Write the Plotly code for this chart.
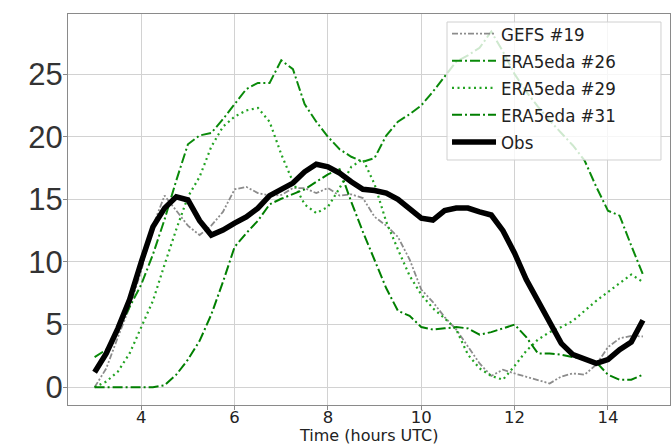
import plotly.graph_objects as go

# Time axis: quarter-hourly from 03:00 to 14:45 UTC
hours = [3.0 + 0.25 * i for i in range(48)]

gefs_19 = [0.0, 1.5, 4.0, 6.4, 9.3, 12.9, 15.3, 14.1, 12.9, 12.15, 12.9, 14.0,
           15.8, 16.0, 15.5, 15.3, 15.35, 15.9, 15.9, 15.5, 15.9, 15.3, 15.4, 15.1,
           13.6, 12.9, 12.0, 10.2, 7.8, 6.8, 5.6, 4.6, 3.2, 1.9, 0.9, 1.4,
           1.1, 0.85, 0.6, 0.3, 0.85, 1.1, 1.0, 1.8, 3.2, 3.9, 4.1, 4.05]

era5eda_26 = [2.4, 3.0, 4.6, 6.4, 8.2, 10.6, 13.4, 16.5, 19.4, 20.1, 20.3, 21.4,
              22.6, 23.8, 24.3, 24.3, 26.1, 25.4, 22.6, 21.2, 20.0, 19.0, 18.4, 18.0,
              18.3, 20.1, 21.2, 21.8, 22.5, 23.6, 24.8, 26.0, 26.5, 27.1, 28.4, 26.8,
              25.0, 23.6, 22.4, 21.3, 20.3, 19.3, 18.1, 16.0, 14.1, 13.7, 11.3, 9.0]

era5eda_29 = [0.0, 0.45, 1.25, 2.7, 4.8, 6.9, 9.8, 12.6, 15.2, 16.8, 19.2, 20.8,
              21.6, 22.1, 22.3, 21.2, 18.6, 16.4, 14.6, 13.9, 14.4, 15.9, 17.6, 18.2,
              16.2, 13.2, 11.0, 8.9, 7.4, 6.3, 5.5, 4.6, 2.6, 1.5, 0.9, 0.6,
              1.7, 2.9, 3.8, 4.4, 4.8, 5.3, 6.1, 6.9, 7.6, 8.3, 9.0, 8.4]

era5eda_31 = [0.0, 0.0, 0.0, 0.0, 0.0, 0.0, 0.15, 1.0, 2.2, 3.7, 5.8, 8.4,
              11.2, 12.3, 13.3, 14.6, 15.05, 15.4, 15.8, 16.4, 17.0, 17.4, 14.8, 12.4,
              10.1, 7.9, 6.1, 5.7, 4.8, 4.6, 4.7, 4.8, 4.7, 4.2, 4.4, 4.7,
              5.0, 4.0, 2.7, 2.7, 2.6, 2.4, 2.3, 2.0, 1.0, 0.6, 0.6, 1.0]

obs = [1.2, 2.7, 4.7, 7.0, 10.0, 12.8, 14.3, 15.2, 14.95, 13.3, 12.15, 12.55,
       13.1, 13.6, 14.3, 15.3, 15.8, 16.3, 17.2, 17.8, 17.6, 17.1, 16.4, 15.8,
       15.7, 15.5, 15.0, 14.2, 13.5, 13.35, 14.1, 14.3, 14.3, 14.0, 13.75, 12.5,
       10.7, 8.6, 6.9, 5.2, 3.5, 2.6, 2.2, 1.9, 2.2, 3.0, 3.6, 5.35]

x_ticks = [4, 6, 8, 10, 12, 14]
y_ticks = [0, 5, 10, 15, 20, 25]
x_title = "Time (hours UTC)"

series = [
    ("GEFS #19", gefs_19, dict(color="#8c8c8c", width=1.8, dash="6px,2px,2px,2px,2px,2px")),
    ("ERA5eda #26", era5eda_26, dict(color="#0a8a0a", width=2, dash="10px,3px,2px,3px")),
    ("ERA5eda #29", era5eda_29, dict(color="#22a322", width=2.2, dash="2px,3.5px")),
    ("ERA5eda #31", era5eda_31, dict(color="#007f00", width=2, dash="10px,3px,2px,3px")),
    ("Obs", obs, dict(color="black", width=5.5)),
]

fig = go.Figure()
for name, vals, line in series:
    fig.add_trace(go.Scatter(x=hours, y=vals, mode="lines", name=name, line=line))

axis_common = dict(
    showline=True, mirror=True, linecolor="#8a8a8a", linewidth=1.2,
    showgrid=True, gridcolor="#d2d2d2", gridwidth=1,
    ticks="outside", ticklen=4, tickcolor="#8a8a8a", zeroline=False,
)

# Legend frame: a translucent white panel drawn above the traces
legend_box = dict(x0=0.6296, x1=0.985, y0=0.6266, y1=0.9795)

fig.update_layout(
    width=671, height=446,
    margin=dict(l=68, r=1, t=14, b=41),
    paper_bgcolor="white", plot_bgcolor="white",
    xaxis=dict(
        range=[2.43, 15.33], tickvals=x_ticks, ticklabelstandoff=-7,
        tickfont=dict(family="DejaVu Sans", size=16.5, color="#222"),
        **axis_common,
    ),
    yaxis=dict(
        range=[-1.42, 29.8], tickvals=y_ticks, ticklabelstandoff=-6,
        tickfont=dict(family="Liberation Sans", size=31, color="#333"),
        **axis_common,
    ),
    legend=dict(
        x=legend_box["x0"], y=0.997, xanchor="left", yanchor="top",
        bgcolor="rgba(0,0,0,0)", borderwidth=0,
        font=dict(family="DejaVu Sans Condensed, Liberation Sans", size=18.5, color="#222"),
        itemwidth=44, tracegroupgap=0,
    ),
    shapes=[dict(
        type="rect", xref="paper", yref="paper", layer="above",
        fillcolor="rgba(255,255,255,0.8)", line=dict(color="#d0d0d0", width=1),
        **legend_box,
    )],
    annotations=[dict(
        text=x_title, xref="paper", yref="paper", x=0.5, y=-0.1049,
        xanchor="center", yanchor="bottom", showarrow=False, borderpad=0,
        font=dict(family="DejaVu Sans", size=16, color="#222"),
    )],
    showlegend=True,
)

fig.write_html("out.html")
